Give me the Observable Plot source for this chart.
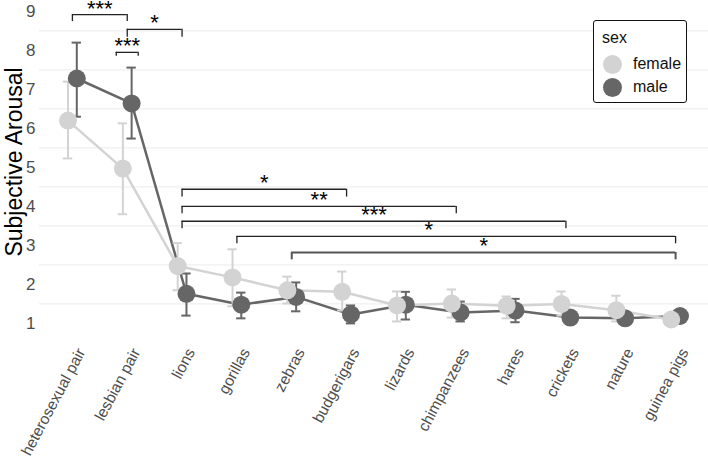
<!DOCTYPE html>
<html><head><meta charset="utf-8">
<script src="https://cdn.jsdelivr.net/npm/d3@7"></script>
<script src="https://cdn.jsdelivr.net/npm/@observablehq/plot@0.6"></script>
<style>
body{margin:0;background:#fff;font-family:"Liberation Sans",Arial,sans-serif;}
#wrap{position:relative;width:708px;height:460px;overflow:hidden;}
.legend{position:absolute;left:593px;top:20px;width:92px;height:81px;border:1.6px solid #111;border-radius:3px;background:#fff;color:#111;font-size:16px;}
.legend .ttl{position:absolute;left:8px;top:8px;}
.legend .row{position:absolute;left:9px;height:20px;display:flex;align-items:center;}
.legend .sw{width:19px;height:19px;border-radius:50%;margin-right:11px;}
</style>
</head><body>
<div id="wrap"></div>
<script>
const categories = ["heterosexual pair","lesbian pair","lions","gorillas","zebras","budgerigars","lizards","chimpanzees","hares","crickets","nature","guinea pigs"];
const femaleMean = [6.20, 4.97, 2.47, 2.18, 1.85, 1.81, 1.46, 1.51, 1.45, 1.50, 1.34, 1.10];
const femaleLow  = [5.23, 3.80, 1.85, 1.44, 1.51, 1.33, 1.05, 1.15, 1.13, 1.20, 1.05, 1.00];
const femaleHigh = [7.20, 6.13, 3.06, 2.90, 2.20, 2.33, 1.82, 1.87, 1.69, 1.82, 1.71, 1.20];
const maleMean = [7.28, 6.64, 1.76, 1.48, 1.68, 1.23, 1.48, 1.28, 1.33, 1.15, 1.13, 1.19];
const maleLow  = [6.30, 5.74, 1.20, 1.13, 1.31, 1.00, 1.10, 1.05, 1.03, 1.00, 1.00, 1.08];
const maleHigh = [8.20, 7.56, 2.28, 1.79, 2.05, 1.46, 1.81, 1.56, 1.63, 1.30, 1.27, 1.30];
const sexes = ["female","male"];
const sexColors = ["#d3d3d3","#666666"];
const yTicks = [1,2,3,4,5,6,7,8,9];
const gridValues = [1.5,2.5,3.5,4.5,5.5,6.5,7.5,8.5];
// significance brackets (category indices)
const bracketStart = [0, 1, 0.8, 2, 2, 2, 3, 4];
const bracketEnd   = [1, 2, 1.2, 5, 7, 9, 11, 11];
const bracketY     = [8.92, 8.54, 7.95, 4.44, 4.00, 3.62, 3.23, 2.82];
const bracketDrop  = [0.18, 0.20, 0.10, 0.20, 0.19, 0.19, 0.19, 0.19];
const bracketLabel = ["***", "*", "***", "*", "**", "***", "*", "*"];
const bracketLabelX = [0.5, 1.5, 1.0, 3.5, 4.5, 5.5, 6.5, 7.5];

const dodge = 0.08, cap = 0.085;
function rows(mean, low, high, off) {
  return categories.map((c, i) => ({cat: c, x: i + off, mean: mean[i], lo: low[i], hi: high[i]}));
}
const female = rows(femaleMean, femaleLow, femaleHigh, -dodge);
const male = rows(maleMean, maleLow, maleHigh, dodge);
const brackets = bracketStart.map((s, i) => ({x1: s, x2: bracketEnd[i], y: bracketY[i], y0: bracketY[i] - bracketDrop[i], label: bracketLabel[i], lx: bracketLabelX[i], last: i === 7}));
const legs = brackets.flatMap(b => [{x: b.x1, y1: b.y, y2: b.y0, last: b.last}, {x: b.x2, y1: b.y, y2: b.y0, last: b.last}]);

function errMarks(data, color) {
  return [
    Plot.ruleX(data, {x: "x", y1: "lo", y2: "hi", stroke: color, strokeWidth: 2}),
    Plot.ruleY(data, {y: "lo", x1: d => d.x - cap, x2: d => d.x + cap, stroke: color, strokeWidth: 2}),
    Plot.ruleY(data, {y: "hi", x1: d => d.x - cap, x2: d => d.x + cap, stroke: color, strokeWidth: 2})
  ];
}

const chart = Plot.plot({
  width: 708, height: 460,
  marginLeft: 39, marginRight: 0, marginTop: 0, marginBottom: 125,
  style: {fontFamily: "Liberation Sans, Arial, sans-serif", background: "#fff"},
  x: {type: "linear", domain: [-0.6, 11.6]},
  y: {domain: [0.69, 9.28]},
  marks: [
    Plot.ruleY(gridValues, {stroke: "#ebebeb", strokeWidth: 1}),
    Plot.axisY({ticks: yTicks, tickSize: 0, tickPadding: 4, fontSize: 17, fill: "#4d4d4d", label: null}),
    Plot.axisX({ticks: d3.range(categories.length), tickFormat: i => categories[i], tickRotate: -62, tickSize: 0, tickPadding: 6, fontSize: 15.5, fill: "#4d4d4d", label: null, dx: 9, dy: 8}),
    Plot.text(["Subjective Arousal"], {frameAnchor: "left", textAnchor: "middle", rotate: -90, dx: -25, dy: -6, fontSize: 23, fill: "#000"}),
    Plot.line(male, {x: "x", y: "mean", stroke: sexColors[1], strokeWidth: 2.5}),
    Plot.line(female, {x: "x", y: "mean", stroke: sexColors[0], strokeWidth: 2.5}),
    ...errMarks(male, sexColors[1]),
    ...errMarks(female, sexColors[0]),
    Plot.dot(male, {x: "x", y: "mean", r: 9, fill: sexColors[1]}),
    Plot.dot(female, {x: "x", y: "mean", r: 9, fill: sexColors[0]}),
    Plot.ruleY(brackets, {y: "y", x1: "x1", x2: "x2", stroke: d => d.last ? "#555" : "#222", strokeWidth: d => d.last ? 2 : 1.3}),
    Plot.ruleX(legs, {x: "x", y1: "y1", y2: "y2", stroke: d => d.last ? "#555" : "#222", strokeWidth: d => d.last ? 2 : 1.3}),
    Plot.text(brackets, {x: "lx", y: "y", text: "label", dy: -6, fontSize: 22, fill: "#000"})
  ]
});
const wrap = document.getElementById("wrap");
wrap.appendChild(chart);
const lg = document.createElement("div");
lg.className = "legend";
lg.innerHTML = `<div class="ttl">sex</div>` + sexes.map((s, i) =>
  `<div class="row" style="top:${33 + i * 23}px"><div class="sw" style="background:${sexColors[i]}"></div><span>${s}</span></div>`).join("");
wrap.appendChild(lg);
</script>
</body></html>
